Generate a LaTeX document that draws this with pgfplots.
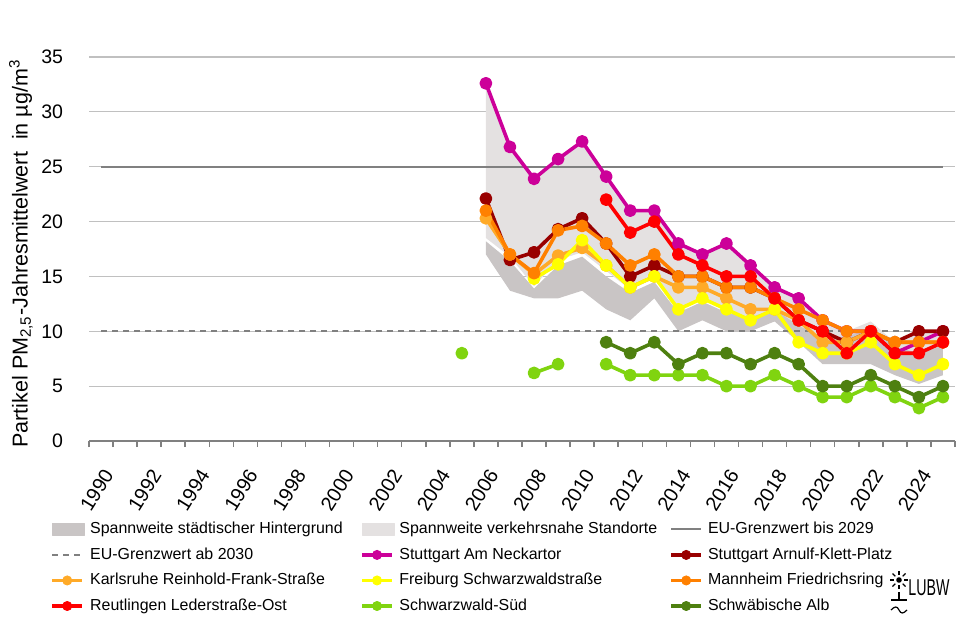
\documentclass[border=0pt]{standalone}
\usepackage{fontspec}
\setmainfont{Liberation Sans}
\usepackage{pgfplots}
\pgfplotsset{compat=1.18}
\usepackage{pgfplotstable}
\usepgfplotslibrary{fillbetween}

\definecolor{neck}{RGB}{204,0,153}
\definecolor{arnulf}{RGB}{153,0,0}
\definecolor{karls}{RGB}{255,170,40}
\definecolor{freib}{RGB}{255,255,0}
\definecolor{mann}{RGB}{255,128,0}
\definecolor{reut}{RGB}{255,0,0}
\definecolor{swsued}{RGB}{128,212,16}
\definecolor{alb}{RGB}{78,128,16}
\definecolor{bandd}{RGB}{201,197,197}
\definecolor{bandl}{RGB}{228,225,225}
\definecolor{eugray}{RGB}{128,128,128}
\definecolor{gridgray}{RGB}{192,192,192}

\pgfplotstableread{
year neck arnulf karls freib mann reut swsued alb
2005 nan nan nan nan nan nan 8 nan
2006 32.6 22.1 20.3 nan 21.0 nan nan nan
2007 26.8 16.5 17.0 nan 17.0 nan nan nan
2008 23.9 17.2 15.2 14.8 15.3 nan 6.2 nan
2009 25.7 19.3 16.9 16.1 19.2 nan 7 nan
2010 27.3 20.3 17.6 18.3 19.6 nan nan nan
2011 24.1 18 16 16 18 22 7 9
2012 21 15 14 14 16 19 6 8
2013 21 16 15 15 17 20 6 9
2014 18 15 14 12 15 17 6 7
2015 17 15 14 13 15 16 6 8
2016 18 14 13 12 14 15 5 8
2017 16 14 12 11 14 15 5 7
2018 14 13 12 12 13 13 6 8
2019 13 11 11 9 12 11 5 7
2020 11 10 9 8 11 10 4 5
2021 10 9 9 8 10 8 4 5
2022 10 10 10 9 10 10 5 6
2023 8 9 9 7 9 8 4 5
2024 9 10 9 6 9 8 3 4
2025 10 10 9 7 9 9 4 5
}\data

\pgfplotstableread{
year dlo dup llo lup
2006 17.0 18.2 18.5 32.6
2007 13.7 16.4 16.8 26.8
2008 13.0 13.9 14.1 23.9
2009 13.0 16.0 16.5 25.7
2010 13.7 16.8 17.2 27.3
2011 12.0 15.0 15.5 24.1
2012 11.0 13.5 13.8 21.0
2013 13.0 14.5 14.8 21.0
2014 10.0 11.7 11.9 18.0
2015 11.0 12.7 12.9 17.0
2016 10.0 11.7 11.9 18.0
2017 10.0 11.3 11.0 16.0
2018 10.9 12.0 11.9 14.0
2019 9.0 10.5 9.0 13.0
2020 7.0 9.5 8.0 11.0
2021 7.0 9.5 8.0 10.0
2022 7.0 10.3 9.0 10.9
2023 6.0 8.6 7.0 9.0
2024 5.2 8.0 6.0 10.0
2025 6.0 8.7 7.0 10.0
}\bands

\pgfplotsset{
  lineimg/.style={legend image code/.code={\draw[#1,line width=1.8bp] (0bp,0bp)--(15bp,0bp); \fill[#1] (7.5bp,0bp) circle (2.3bp);}},
  ser/.style={color=#1, line width=1.8bp, mark=*, mark size=2.3bp, mark options={solid, fill=#1, draw=#1}, forget plot},
}

\begin{document}
\begin{tikzpicture}
\begin{axis}[
  at={(0,0)}, anchor=south west,
  scale only axis, width=433bp, height=192bp,
  xmin=1989.5, xmax=2025.5, ymin=0, ymax=35,
  axis x line*=bottom, axis y line*=left,
  y axis line style={draw=none},
  x axis line style={draw=eugray, line width=0.75bp},
  xtick={1990,1992,...,2024},
  major x tick style={draw=none},
  minor xtick={1989.5,1990.5,...,2025.5},
  minor x tick style={draw=eugray, line width=0.75bp},
  minor tick length=3bp,
  tick align=outside,
  ytick={0,5,...,35},
  ytick style={draw=none},
  ymajorgrids, major grid style={draw=gridgray, line width=0.6bp},
  /pgf/number format/assume math mode=true,
  /pgf/number format/1000 sep={},
  x tick label style={rotate=58, anchor=north east, inner sep=0pt, font=\fontsize{10}{12}\selectfont, xshift=-7.1bp, yshift=-5.2bp},
  y tick label style={anchor=east, inner sep=0pt, xshift=-8.5bp, font=\fontsize{9.8}{12}\selectfont},
  ylabel={Partikel PM\textsubscript{2,5}-Jahresmittelwert\ \ in µg/m\textsuperscript{3}},
  ylabel style={at={(axis description cs:-0.0785,0.488)}, anchor=center, font=\fontsize{10.8}{13}\selectfont},
  unbounded coords=jump,
  legend columns=3,
  legend cell align=left,
  legend style={at={(axis description cs:-0.0450,-0.205)}, anchor=north west, draw=none, fill=none,
    font=\fontsize{8}{9.6}\selectfont, row sep=3.5bp, inner sep=0pt, nodes={inner sep=1bp},
    /tikz/every odd column/.append style={column sep=1.5bp},
    /tikz/every even column/.append style={column sep=5bp}},
  every axis plot/.append style={line join=round},
]
\addlegendimage{legend image code/.code={\fill[bandd] (0bp,-3bp) rectangle (16bp,3bp);}}
\addlegendentry{\makebox[129bp][l]{Spannweite städtischer Hintergrund}}
\addlegendimage{legend image code/.code={\fill[bandl] (0bp,-3bp) rectangle (16bp,3bp);}}
\addlegendentry{\makebox[129bp][l]{Spannweite verkehrsnahe Standorte}}
\addlegendimage{legend image code/.code={\draw[eugray,line width=1bp] (0bp,0bp)--(15bp,0bp);}}
\addlegendentry{\makebox[129bp][l]{EU-Grenzwert bis 2029}}
\addlegendimage{legend image code/.code={\draw[eugray,line width=1bp,dash pattern=on 3bp off 2.5bp] (0bp,0bp)--(16bp,0bp);}}
\addlegendentry{EU-Grenzwert ab 2030}
\addlegendimage{lineimg=neck}
\addlegendentry{Stuttgart Am Neckartor}
\addlegendimage{lineimg=arnulf}
\addlegendentry{Stuttgart Arnulf-Klett-Platz}
\addlegendimage{lineimg=karls}
\addlegendentry{Karlsruhe Reinhold-Frank-Straße}
\addlegendimage{lineimg=freib}
\addlegendentry{Freiburg Schwarzwaldstraße}
\addlegendimage{lineimg=mann}
\addlegendentry{Mannheim Friedrichsring}
\addlegendimage{lineimg=reut}
\addlegendentry{Reutlingen Lederstraße-Ost}
\addlegendimage{lineimg=swsued}
\addlegendentry{Schwarzwald-Süd}
\addlegendimage{lineimg=alb}
\addlegendentry{Schwäbische Alb}

% bands
\addplot[name path=ll, draw=none, forget plot] table[x=year,y=llo]{\bands};
\addplot[name path=lu, draw=none, forget plot] table[x=year,y=lup]{\bands};
\addplot[fill=bandl, draw=none, forget plot] fill between[of=ll and lu];
\addplot[name path=dl, draw=none, forget plot] table[x=year,y=dlo]{\bands};
\addplot[name path=du, draw=none, forget plot] table[x=year,y=dup]{\bands};
\addplot[fill=bandd, draw=none, forget plot] fill between[of=dl and du];

% limits
\addplot[eugray, line width=1bp, forget plot] coordinates {(1990,25) (2025,25)};
\addplot[eugray, line width=1bp, dash pattern=on 3bp off 2.5bp, forget plot] coordinates {(1990,10) (2025,10)};

% series
\addplot[ser=neck] table[x=year,y=neck]{\data};
\addplot[ser=arnulf] table[x=year,y=arnulf]{\data};
\addplot[ser=karls] table[x=year,y=karls]{\data};
\addplot[ser=freib] table[x=year,y=freib]{\data};
\addplot[ser=mann] table[x=year,y=mann]{\data};
\addplot[ser=reut] table[x=year,y=reut]{\data};
\addplot[ser=swsued] table[x=year,y=swsued]{\data};
\addplot[ser=alb] table[x=year,y=alb]{\data};
\end{axis}
% logo
\begin{scope}[shift={(405bp,-69.5bp)}, line width=0.6bp]
  \fill (0,0) circle (1.4bp);
  \foreach \a in {0,45,...,315} \draw (\a:2.6bp) -- (\a:4.6bp);
  \draw (0,-6bp) -- (0,-10bp);
  \draw (-4bp,-10bp) -- (4bp,-10bp);
  \draw (-4bp,-15bp) .. controls (-2bp,-13bp) and (-1bp,-13bp) .. (0,-15bp) .. controls (1bp,-17bp) and (2bp,-17bp) .. (4bp,-15bp);
\end{scope}
\node[anchor=west, inner sep=0pt, font=\fontsize{11.5}{13}\selectfont] at (409.5bp,-73.5bp) {\scalebox{0.62}[1]{LUBW}};
\path (-44.5bp,-94bp) rectangle (443bp,220.5bp);
\end{tikzpicture}
\end{document}
